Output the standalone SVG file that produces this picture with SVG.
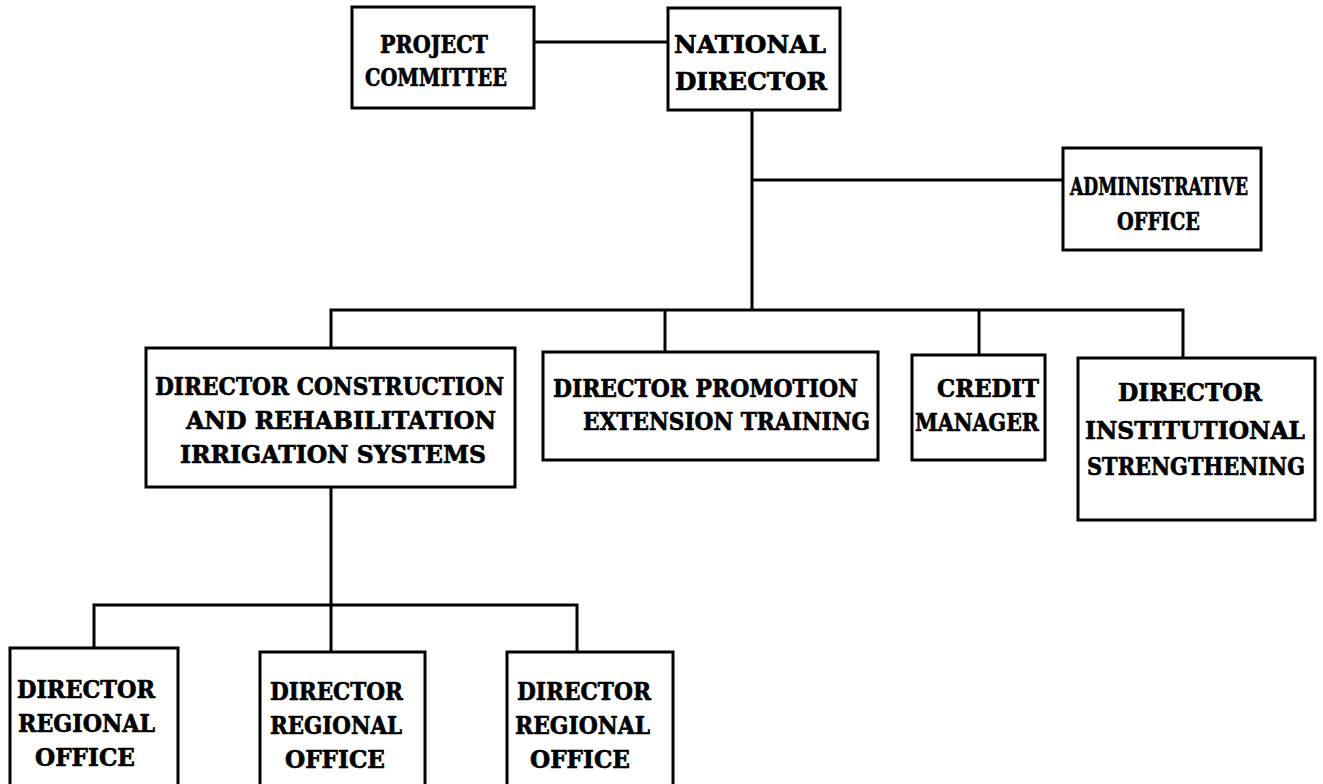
<svg xmlns="http://www.w3.org/2000/svg" width="1323" height="784" viewBox="0 0 1323 784">
<style>
.box{fill:#fff;stroke:#000;stroke-width:3}
.ln{fill:none;stroke:#000;stroke-width:3}
text{font-family:"DejaVu Serif","Liberation Serif",serif;font-weight:bold;font-size:25px;fill:#000;stroke:#000;stroke-width:0.7}
</style>
<rect width="1323" height="784" fill="#fff"/>
<g id="connectors">
<line class="ln" x1="534" y1="42" x2="668" y2="42"/>
<line class="ln" x1="752" y1="110" x2="752" y2="310"/>
<line class="ln" x1="752" y1="180" x2="1063" y2="180"/>
<polyline class="ln" points="331,348 331,310 1183,310 1183,358"/>
<line class="ln" x1="665" y1="310" x2="665" y2="352"/>
<line class="ln" x1="979" y1="310" x2="979" y2="355"/>
<line class="ln" x1="331" y1="487" x2="331" y2="605"/>
<polyline class="ln" points="94,648 94,605 577,605 577,652"/>
<line class="ln" x1="331" y1="605" x2="331" y2="652"/>
</g>
<g id="project-committee">
<rect class="box" x="352" y="7" width="182" height="101"/>
<text x="380" y="53" textLength="108" lengthAdjust="spacingAndGlyphs">PROJECT</text>
<text x="365" y="86" textLength="142" lengthAdjust="spacingAndGlyphs">COMMITTEE</text>
</g>
<g id="national-director">
<rect class="box" x="668" y="8" width="172" height="102"/>
<text x="674" y="53" textLength="152" lengthAdjust="spacingAndGlyphs">NATIONAL</text>
<text x="675" y="90" textLength="152" lengthAdjust="spacingAndGlyphs">DIRECTOR</text>
</g>
<g id="administrative-office">
<rect class="box" x="1063" y="148" width="198" height="102"/>
<text x="1070" y="195" textLength="178" lengthAdjust="spacingAndGlyphs">ADMINISTRATIVE</text>
<text x="1117" y="230" textLength="83" lengthAdjust="spacingAndGlyphs">OFFICE</text>
</g>
<g id="director-construction">
<rect class="box" x="146" y="348" width="369" height="139"/>
<text x="155" y="395" textLength="349" lengthAdjust="spacingAndGlyphs">DIRECTOR CONSTRUCTION</text>
<text x="186" y="429" textLength="310" lengthAdjust="spacingAndGlyphs">AND REHABILITATION</text>
<text x="180" y="463" textLength="306" lengthAdjust="spacingAndGlyphs">IRRIGATION SYSTEMS</text>
</g>
<g id="director-promotion">
<rect class="box" x="543" y="352" width="335" height="108"/>
<text x="553" y="397" textLength="305" lengthAdjust="spacingAndGlyphs">DIRECTOR PROMOTION</text>
<text x="583" y="430" textLength="287" lengthAdjust="spacingAndGlyphs">EXTENSION TRAINING</text>
</g>
<g id="credit-manager">
<rect class="box" x="912" y="355" width="133" height="105"/>
<text x="937" y="397" textLength="102" lengthAdjust="spacingAndGlyphs">CREDIT</text>
<text x="915" y="431" textLength="124" lengthAdjust="spacingAndGlyphs">MANAGER</text>
</g>
<g id="director-institutional">
<rect class="box" x="1078" y="358" width="237" height="162"/>
<text x="1118" y="401" textLength="144" lengthAdjust="spacingAndGlyphs">DIRECTOR</text>
<text x="1085" y="439" textLength="220" lengthAdjust="spacingAndGlyphs">INSTITUTIONAL</text>
<text x="1087" y="475" textLength="218" lengthAdjust="spacingAndGlyphs">STRENGTHENING</text>
</g>
<g id="regional-office-1">
<rect class="box" x="10" y="648" width="168" height="140"/>
<text x="17" y="698" textLength="138" lengthAdjust="spacingAndGlyphs">DIRECTOR</text>
<text x="18" y="732" textLength="137" lengthAdjust="spacingAndGlyphs">REGIONAL</text>
<text x="35" y="766" textLength="100" lengthAdjust="spacingAndGlyphs">OFFICE</text>
</g>
<g id="regional-office-2">
<rect class="box" x="260" y="652" width="165" height="136"/>
<text x="270" y="700" textLength="133" lengthAdjust="spacingAndGlyphs">DIRECTOR</text>
<text x="270" y="734" textLength="132" lengthAdjust="spacingAndGlyphs">REGIONAL</text>
<text x="285" y="768" textLength="100" lengthAdjust="spacingAndGlyphs">OFFICE</text>
</g>
<g id="regional-office-3">
<rect class="box" x="507" y="652" width="166" height="136"/>
<text x="517" y="700" textLength="134" lengthAdjust="spacingAndGlyphs">DIRECTOR</text>
<text x="515" y="734" textLength="135" lengthAdjust="spacingAndGlyphs">REGIONAL</text>
<text x="530" y="768" textLength="100" lengthAdjust="spacingAndGlyphs">OFFICE</text>
</g>
</svg>
